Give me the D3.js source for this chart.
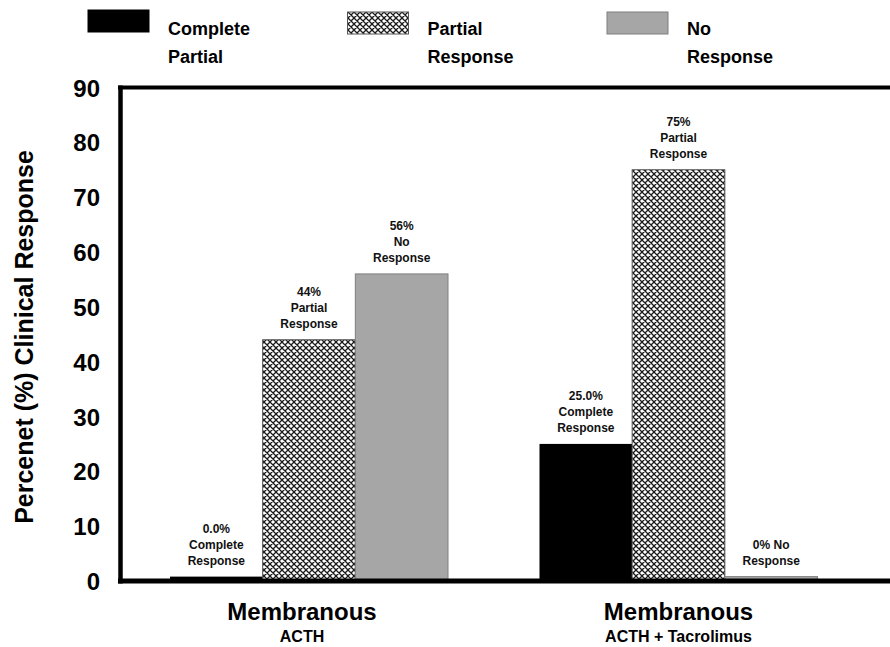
<!DOCTYPE html>
<html>
<head>
<meta charset="utf-8">
<script src="https://cdn.jsdelivr.net/npm/d3@7"></script>
<style>
  html, body { margin: 0; padding: 0; background: #fff; }
  svg { display: block; font-family: "Liberation Sans", Arial, Helvetica, sans-serif; font-weight: bold; }
</style>
</head>
<body>
<svg id="chart" width="890" height="647"></svg>
<script>
// ---- Data ----
const groups = ["ACTH", "ACTH + Tacrolimus"];
const groupTitles = ["Membranous", "Membranous"];
const groupSubtitles = ["ACTH", "ACTH + Tacrolimus"];
const series = ["complete", "partial", "none"];
const legendLabels = [["Complete", "Partial"], ["Partial", "Response"], ["No", "Response"]];
const completeValues = [0.8, 25];
const partialValues = [44, 75];
const noResponseValues = [56, 0.8];
const completeLabels = [["0.0%", "Complete", "Response"], ["25.0%", "Complete", "Response"]];
const partialLabels = [["44%", "Partial", "Response"], ["75%", "Partial", "Response"]];
const noResponseLabels = [["56%", "No", "Response"], ["0% No", "Response"]];
const yTicks = [0, 10, 20, 30, 40, 50, 60, 70, 80, 90];
const yTitle = "Percenet (%) Clinical Response";

const valuesBySeries = { complete: completeValues, partial: partialValues, none: noResponseValues };
const labelsBySeries = { complete: completeLabels, partial: partialLabels, none: noResponseLabels };

const svg = d3.select("#chart");

// pattern for partial response
const defs = svg.append("defs");
const pat = defs.append("pattern")
  .attr("id", "hatch").attr("patternUnits", "userSpaceOnUse")
  .attr("width", 6).attr("height", 6);
pat.append("rect").attr("width", 6).attr("height", 6).attr("fill", "#ffffff");
pat.append("path").attr("d", "M0,0L6,6M6,0L0,6M-1,5L1,7M5,-1L7,1M5,7L7,5M-1,1L1,-1")
  .attr("stroke", "#1a1a1a").attr("stroke-width", 1.3);

const fills = { complete: "#000000", partial: "url(#hatch)", none: "#a6a6a6" };
const strokes = { complete: "#000000", partial: "#555555", none: "#7f7f7f" };

// ---- Scales ----
const y = d3.scaleLinear().domain([0, 90]).range([581, 87.5]);
const x0 = d3.scaleBand().domain(groups).range([78.5, 909]).paddingInner(0.2476).paddingOuter(0.2476);
const x1 = d3.scaleBand().domain(series).range([0, x0.bandwidth()]);

// ---- Bars ----
const barData = [];
groups.forEach((g, gi) => series.forEach(s => barData.push({ g, gi, s, v: valuesBySeries[s][gi], lab: labelsBySeries[s][gi] })));

svg.append("g").selectAll("rect").data(barData).join("rect")
  .attr("x", d => x0(d.g) + x1(d.s))
  .attr("y", d => y(d.v))
  .attr("width", x1.bandwidth())
  .attr("height", d => y(0) - y(d.v))
  .attr("fill", d => fills[d.s])
  .attr("stroke", d => strokes[d.s])
  .attr("stroke-width", d => d.s === "complete" ? 0 : 1);

// bar labels
const lineH = 16;
const lbl = svg.append("g").attr("font-size", 12).attr("text-anchor", "middle").attr("fill", "#111");
barData.forEach(d => {
  const cx = x0(d.g) + x1(d.s) + x1.bandwidth() / 2;
  const n = d.lab.length;
  const lastBase = y(d.v) - 12;
  const t = lbl.append("text");
  d.lab.forEach((line, i) => {
    t.append("tspan").attr("x", cx).attr("y", lastBase - (n - 1 - i) * lineH).text(line);
  });
});

// ---- Frame / axes ----
svg.append("line").attr("x1", 118).attr("x2", 890).attr("y1", y(90)).attr("y2", y(90))
  .attr("stroke", "#000").attr("stroke-width", 4);
svg.append("line").attr("x1", 120.5).attr("x2", 120.5).attr("y1", y(90) - 2).attr("y2", y(0) + 2.5)
  .attr("stroke", "#000").attr("stroke-width", 4.5);
svg.append("line").attr("x1", 118).attr("x2", 890).attr("y1", y(0)).attr("y2", y(0))
  .attr("stroke", "#000").attr("stroke-width", 5);

const yAxis = svg.append("g").attr("transform", "translate(120,0)")
  .call(d3.axisLeft(y).tickValues(yTicks).tickSize(0).tickPadding(20));
yAxis.select(".domain").remove();
yAxis.selectAll("text").attr("font-size", 24).attr("font-weight", "bold")
  .attr("font-family", "'Liberation Sans', Arial, sans-serif").attr("fill", "#000").attr("dy", "0.36em");

svg.append("text").attr("transform", "translate(33,337) rotate(-90)")
  .attr("text-anchor", "middle").attr("font-size", 25).attr("fill", "#000").text(yTitle);

// category labels
groups.forEach((g, i) => {
  const cx = x0(g) + x0.bandwidth() / 2 - (i === 0 ? 7 : 0);
  svg.append("text").attr("x", cx).attr("y", 620).attr("text-anchor", "middle")
    .attr("font-size", 24).text(groupTitles[i]);
  svg.append("text").attr("x", cx).attr("y", 642).attr("text-anchor", "middle")
    .attr("font-size", 16).text(groupSubtitles[i]);
});

// ---- Legend ----
const legend = svg.append("g");
series.forEach((s, i) => {
  const lx = 88 + i * 259.5;
  legend.append("rect").attr("x", lx).attr("y", i === 0 ? 10 : 12).attr("width", 61).attr("height", 22)
    .attr("fill", fills[s]).attr("stroke", strokes[s]).attr("stroke-width", 1);
  legendLabels[i].forEach((t, j) => {
    legend.append("text").attr("x", lx + 80).attr("y", 35 + j * 28).attr("font-size", 18).text(t);
  });
});
</script>
</body>
</html>
